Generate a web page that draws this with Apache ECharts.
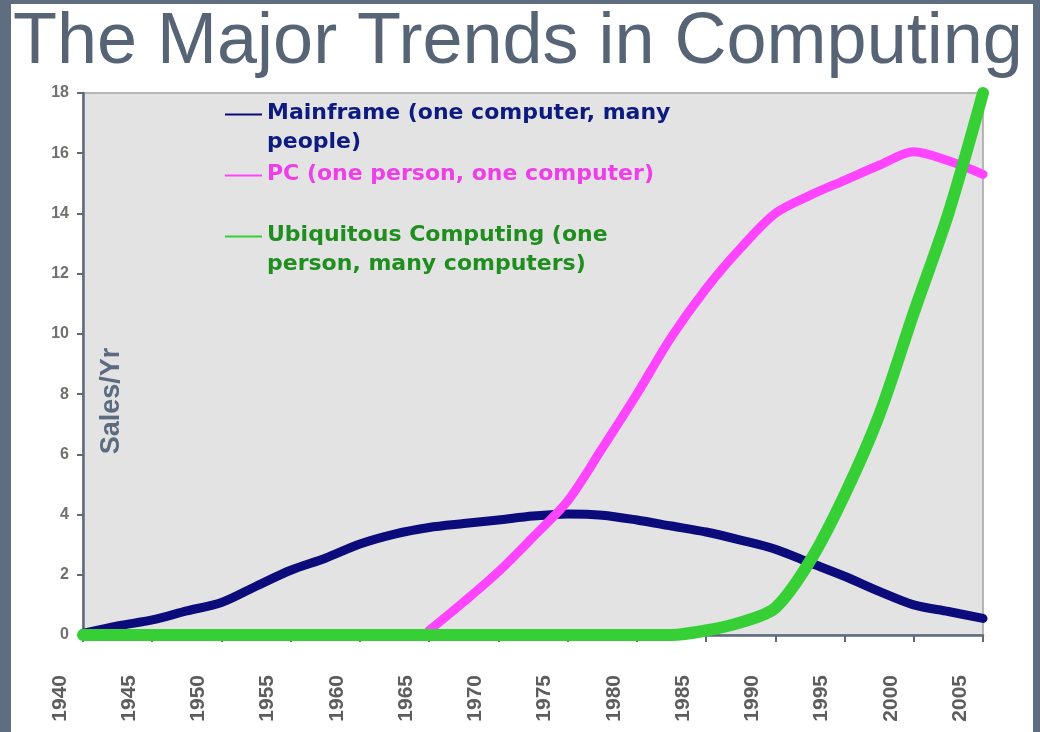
<!DOCTYPE html>
<html>
<head>
<meta charset="utf-8">
<script src="https://cdn.jsdelivr.net/npm/echarts@6/dist/echarts.min.js"></script>
<style>
html, body { margin: 0; padding: 0; width: 1040px; height: 732px; overflow: hidden; background: #5e6d80; }
#chart { position: absolute; left: 11px; top: 4px; width: 1022px; height: 728px; background: #fff; }
</style>
</head>
<body>
<div id="chart"></div>
<script>
var years = [1940, 1942.5, 1945, 1947.5, 1950, 1952.5, 1955, 1957.5, 1960, 1962.5, 1965, 1967.5, 1970,
    1972.5, 1975, 1977.5, 1980, 1982.5, 1985, 1987.5, 1990, 1992.5, 1995, 1997.5, 2000, 2002.5, 2005];
var mainframe = [0.05, 0.3, 0.5, 0.8, 1.08, 1.62, 2.15, 2.55, 3.02, 3.35, 3.57, 3.7, 3.82,
    3.95, 4.02, 3.98, 3.82, 3.62, 3.42, 3.15, 2.85, 2.4, 1.95, 1.45, 1.0, 0.78, 0.55];
var pc = [null, null, null, null, null, null, null, null, null, null, 0.15, 1.1, 2.1,
    3.25, 4.45, 6.2, 8.0, 9.9, 11.5, 12.85, 14.0, 14.6, 15.1, 15.6, 16.05, 15.75, 15.3];
var ubiquitous = [0, 0, 0, 0, 0, 0, 0, 0, 0, 0, 0, 0, 0,
    0, 0, 0, 0, 0, 0.15, 0.42, 0.9, 2.45, 4.65, 7.3, 10.7, 14.0, 18.0];

var names = ['Mainframe (one computer, many people)', 'PC (one person, one computer)',
    'Ubiquitous Computing (one person, many computers)'];
var legendLines = {};
legendLines[names[0]] = 'Mainframe (one computer, many\npeople)';
legendLines[names[1]] = 'PC (one person, one computer)\n ';
legendLines[names[2]] = 'Ubiquitous Computing (one\nperson, many computers)';

var lineColors = ['#0b0b7c', '#ff44ff', '#36cf36'];
var textColors = ['#0d1a80', '#ee3eea', '#1f8e1f'];
var slate = '#5b6b7f';

function pairs(vals) {
    return years.map(function (y, i) { return [y, vals[i]]; });
}

var chart = echarts.init(document.getElementById('chart'));
var option = {
    animation: false,
    title: {
        text: 'The Major Trends in Computing',
        left: 2,
        top: 3,
        padding: 0,
        textStyle: { fontFamily: 'Liberation Sans', fontSize: 72, fontWeight: 'normal', color: '#566475' }
    },
    legend: {
        orient: 'vertical',
        left: 214,
        top: 95,
        padding: 0,
        itemGap: 3,
        itemWidth: 37,
        itemHeight: 29,
        selectedMode: false,
        icon: 'path://M0,0H37V2H0Z M0,28.9H0.1V29H0Z',
        itemStyle: { borderWidth: 0 },
        formatter: function (n) { return legendLines[n]; },
        textStyle: { fontFamily: 'DejaVu Sans', fontWeight: 'bold', fontSize: 22, lineHeight: 29 },
        data: names.map(function (n, i) {
            return { name: n, textStyle: { color: textColors[i] } };
        })
    },
    grid: [{
        left: 72, top: 89, width: 900, height: 542,
        outerBoundsMode: 'none',
        show: true,
        backgroundColor: '#e3e3e3',
        borderColor: '#a3a3a3',
        borderWidth: 1.5
    }, {
        // year labels sit a little left of their ticks in the original
        left: 49, top: 89, width: 900, height: 542,
        outerBoundsMode: 'none'
    }],
    xAxis: [{
        type: 'value',
        min: 1940, max: 2005, interval: 5,
        splitLine: { show: false },
        axisLine: { lineStyle: { color: slate, width: 2.5 } },
        axisTick: { length: 7, lineStyle: { color: slate, width: 2 } },
        axisLabel: { show: false }
    }, {
        gridIndex: 1,
        type: 'value',
        min: 1940, max: 2005, interval: 5,
        splitLine: { show: false },
        axisLine: { show: false },
        axisTick: { show: false },
        axisLabel: {
            rotate: 90, margin: 40,
            formatter: function (v) { return String(v); },
            fontFamily: 'Liberation Sans', fontSize: 21, fontWeight: 'bold', color: '#5d5d5d'
        }
    }],
    yAxis: [{
        type: 'value',
        min: 0, max: 18, interval: 2,
        name: 'Sales/Yr',
        nameLocation: 'middle',
        nameRotate: 90,
        nameGap: -42,
        nameTextStyle: {
            fontFamily: 'Liberation Sans', fontSize: 27, fontWeight: 'bold', color: '#5b6b80',
            padding: [0, 74, 0, 0]
        },
        splitLine: { show: false },
        axisLine: { lineStyle: { color: slate, width: 2.5 } },
        axisTick: { length: 6, lineStyle: { color: slate, width: 2 } },
        axisLabel: { margin: 14, fontFamily: 'Liberation Sans', fontSize: 16, fontWeight: 'bold', color: '#707070' }
    }, {
        gridIndex: 1,
        type: 'value',
        min: 0, max: 18,
        show: false
    }],
    series: [mainframe, pc, ubiquitous].map(function (vals, i) {
        return {
            name: names[i],
            type: 'line',
            data: pairs(vals),
            smooth: 0.3,
            symbol: 'none',
            clip: false,
            itemStyle: { color: lineColors[i] },
            lineStyle: { color: lineColors[i], width: i === 2 ? 12 : 9, cap: 'round', join: 'round' }
        };
    })
};
chart.setOption(option);
</script>
</body>
</html>
